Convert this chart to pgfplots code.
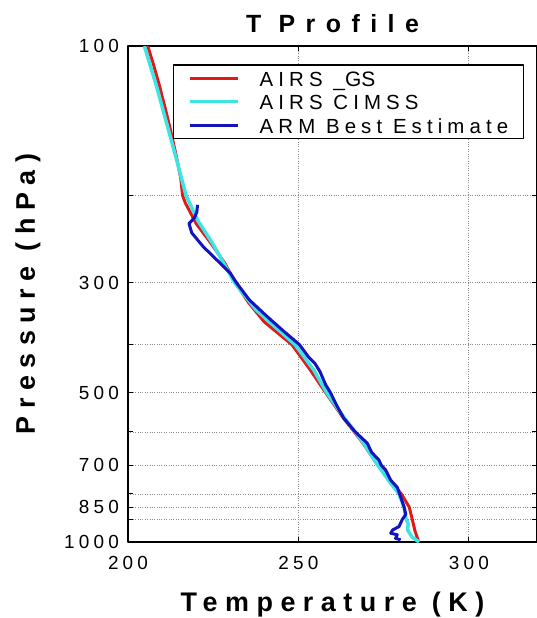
\documentclass[border=0pt]{standalone}
\usepackage{fontspec}
\setmainfont{Liberation Sans}
\newfontfamily\tickfont[LetterSpace=22]{Liberation Sans}
\newfontfamily\legfont[LetterSpace=25]{Liberation Sans}
\newfontfamily\labfont[LetterSpace=28]{Liberation Sans}
\newfontfamily\titfont[LetterSpace=42]{Liberation Sans}
\newfontfamily\plainfont{Liberation Sans}
\usepackage{pgfplots}
\pgfplotsset{compat=1.18}
\definecolor{airsred}{RGB}{225,25,25}
\definecolor{airscyan}{RGB}{60,228,228}
\definecolor{armblue}{RGB}{20,20,190}
\begin{document}
\begin{tikzpicture}
\begin{axis}[
 scale only axis, width=409bp, height=496bp,
 xmin=200, xmax=320, ymin=100, ymax=1000,
 ymode=log, y dir=reverse,
 xtick={200,250,300},
 xticklabels={200,250,300},
 ytick={100,200,300,400,500,600,700,800,850,900,1000},
 yticklabels={100,,300,,500,,700,,850,,1000},
 yminorticks=false, xminorticks=false,
 grid=major,
 major grid style={dotted, line width=0.8bp, black!45},
 axis line style={line width=1.4bp, black},
 tick style={black, line width=1bp},
 major tick length=5bp,
 tick align=inside,
 /pgf/number format/assume math mode=true,
 ticklabel style={font=\tickfont\fontsize{19}{21}\selectfont, inner sep=0pt},
 xticklabel shift=14bp, yticklabel shift=9bp,
 xlabel={Temperature (K)}, ylabel={Pressure (hPa)},
 label style={font=\labfont\bfseries\fontsize{27}{30}\selectfont},
 xlabel style={at={(0.5,-0.1391)}, anchor=base},
 ylabel style={at={(-0.2274,0.5)}, anchor=base},
 title={T Profile},
 title style={font=\titfont\bfseries\fontsize{25}{28}\selectfont, at={(0.5,1.016)}, anchor=base},
 legend style={at={(0.109,0.963)}, anchor=north west, draw=black, line width=1.2bp,
   fill=white, inner xsep=15bp, inner ysep=3.3bp, row sep=4bp, column sep=20bp,
   font=\legfont\fontsize{20.5}{22}\selectfont,
   nodes={inner sep=0pt, text height=18bp, text depth=1.6bp},
   cells={anchor=west}},
 legend image code/.code={\draw[#1] (0bp,0bp) -- (48bp,0bp);},
 line join=round,
]
\addplot[airsred, line width=3bp] coordinates {
(205.8,100) (207.3,108) (209.2,120) (211.2,136) (212.6,149) (214.1,166)
(215.5,185) (216.0,200) (216.8,207) (220.0,228) (224.0,248) (228.4,274)
(231.5,300) (235.5,330) (240.0,360) (248.1,400) (253.5,450) (258.0,500)
(263.0,560) (268.8,630) (273.3,700) (277.5,760) (280.2,800) (282.5,850)
(283.4,900) (284.2,950) (285.3,1000)};
\addlegendentry{AIRS~{\plainfont\fontsize{21}{22}\selectfont\_GS}}
\addplot[airscyan, line width=3.5bp] coordinates {
(204.8,100) (208.3,120) (211.2,142) (214.3,170) (217.0,200) (220.5,225)
(224.8,250) (228.2,275) (231.3,300) (237.5,340) (249.0,400) (254.5,450)
(258.3,500) (263.3,560) (269.0,630) (273.3,700) (277.0,760) (279.5,800)
(281.0,850) (281.5,893) (282.2,920) (282.0,945) (283.4,978) (285.4,1000)};
\addlegendentry{AIRS CIMSS}
\addplot[armblue, line width=3bp] coordinates {
(220.4,209) (220.2,216) (219.5,222) (217.9,228) (218.7,238) (222.1,254)
(225.1,266) (230.0,287) (231.8,300) (235.6,325) (240.6,350) (245.5,375)
(250.3,400) (253.0,424) (254.8,436) (256.3,453) (258.0,482) (259.4,500)
(261.2,530) (263.3,563) (266.7,600) (270.2,632) (271.5,660) (273.6,683)
(274.3,700) (275.6,716) (277.1,751) (279.0,776) (280.0,811) (281.0,850)
(281.5,880) (280.5,900) (279.5,931) (277.6,946) (277.1,960) (279.0,967)
(278.5,983) (280.0,990)};
\addlegendentry{ARM Best Estimate}
\end{axis}
\pgfresetboundingbox
\useasboundingbox ([xshift=-128bp,yshift=-76bp]current axis.south west) rectangle ([yshift=46bp]current axis.north east);
\end{tikzpicture}
\end{document}
